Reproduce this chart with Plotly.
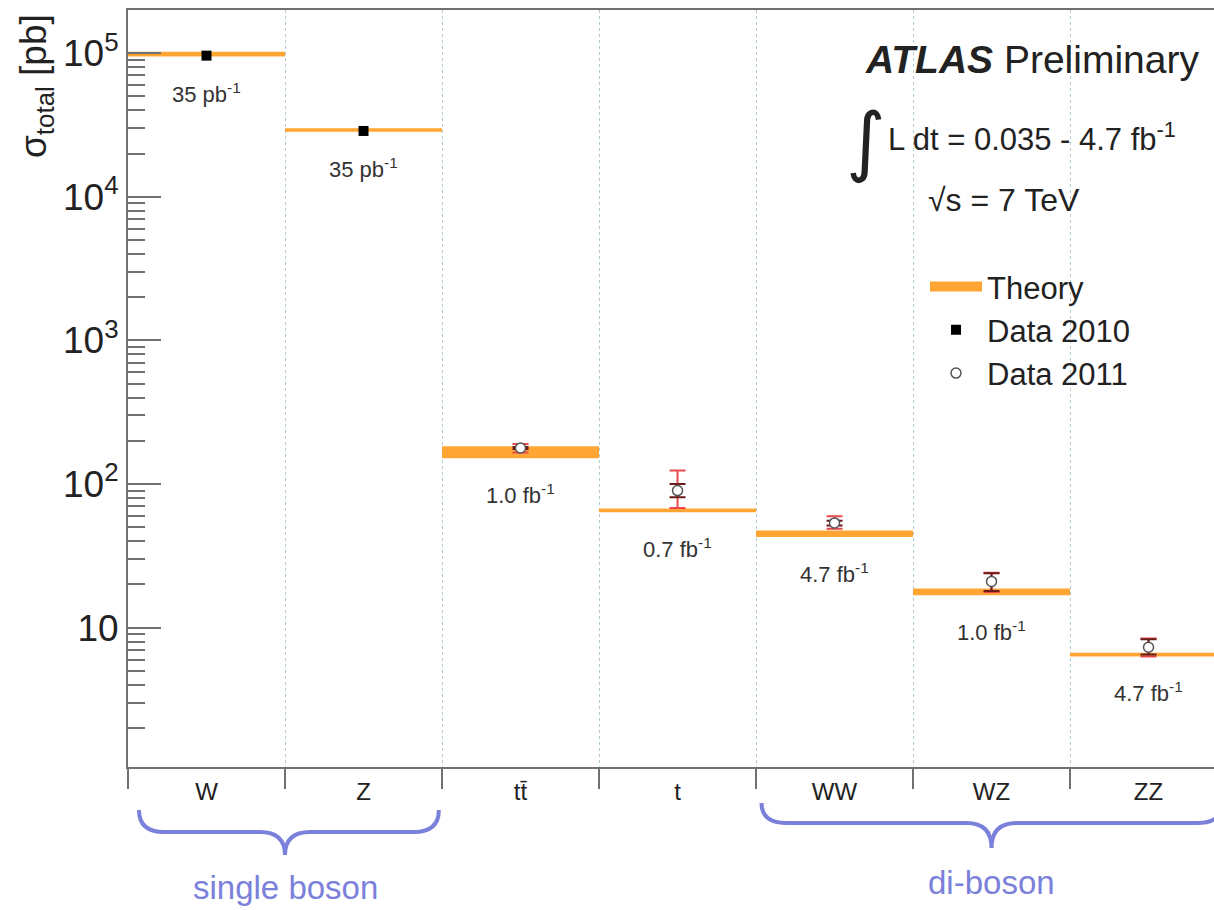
import numpy as np
import plotly.graph_objects as go

# ---------------- data ----------------
categories = ["W", "Z", "tt\u0304", "t", "WW", "WZ", "ZZ"]
theory_lo = [9.45e4, 2.83e4, 151, 63.5, 42.8, 16.8, 6.3]
theory_hi = [1.02e5, 3.00e4, 183, 67.5, 47.5, 18.7, 6.7]
lumi_labels = ["35 pb<sup>-1</sup>", "35 pb<sup>-1</sup>", "1.0 fb<sup>-1</sup>", "0.7 fb<sup>-1</sup>",
               "4.7 fb<sup>-1</sup>", "1.0 fb<sup>-1</sup>", "4.7 fb<sup>-1</sup>"]

data2010_cat = ["W", "Z"]
data2010_val = [9.6e4, 2.87e4]

data2011_cat = ["tt\u0304", "t", "WW", "WZ", "ZZ"]
data2011_val = [178, 90, 53.6, 21.0, 7.3]
stat_up = [3, 10, 2.0, 2.9, 1.0]
stat_dn = [3, 9, 2.2, 3.0, 0.8]
tot_up = [12, 34, 6.0, 3.1, 1.1]
tot_dn = [12, 22, 4.7, 3.3, 1.0]

ytick_vals = [10, 100, 1e3, 1e4, 1e5]
ytick_text = ["10", "10<sup>2</sup>", "10<sup>3</sup>", "10<sup>4</sup>", "10<sup>5</sup>"]

# ---------------- style ----------------
ORANGE = "#FFA533"
AXIS = "#707070"
TEXT = "#222222"
BRACE = "#7b80da"
FONT = "Liberation Sans, Arial, sans-serif"

xpos = {c: i for i, c in enumerate(categories)}

fig = go.Figure()

# theory bands
fig.add_trace(go.Bar(
    x=list(range(len(categories))),
    base=theory_lo,
    y=[h - l for h, l in zip(theory_hi, theory_lo)],
    width=1.0,
    marker=dict(color=ORANGE, line=dict(width=0)),
    showlegend=False, hoverinfo="skip",
))
# legend entry for theory
fig.add_trace(go.Scatter(x=[None], y=[None], mode="lines", name="Theory",
                         line=dict(color=ORANGE, width=10)))

# data 2010
fig.add_trace(go.Scatter(
    x=[xpos[c] for c in data2010_cat], y=data2010_val, mode="markers", name="Data 2010",
    marker=dict(symbol="square", size=10, color="black"),
))

x11 = [xpos[c] for c in data2011_cat]
# total uncertainty (red)
fig.add_trace(go.Scatter(
    x=x11, y=data2011_val, mode="markers", showlegend=False,
    marker=dict(size=1, color="rgba(0,0,0,0)"),
    error_y=dict(type="data", symmetric=False, array=tot_up, arrayminus=tot_dn,
                 color="#e8484a", thickness=2, width=8),
))
# statistical uncertainty (dark)
fig.add_trace(go.Scatter(
    x=x11, y=data2011_val, mode="markers", showlegend=False,
    marker=dict(size=1, color="rgba(0,0,0,0)"),
    error_y=dict(type="data", symmetric=False, array=stat_up, arrayminus=stat_dn,
                 color="#6a1c1c", thickness=2, width=8),
))
# data 2011 markers
fig.add_trace(go.Scatter(
    x=x11, y=data2011_val, mode="markers", name="Data 2011",
    marker=dict(symbol="circle", size=10, color="white", line=dict(color="#555555", width=1.5)),
))

# luminosity labels
for i, lab in enumerate(lumi_labels):
    fig.add_annotation(x=i, y=np.log10(theory_lo[i]), xref="x", yref="y", text=lab,
                       showarrow=False, yanchor="top", xanchor="center", yshift=-20,
                       font=dict(family=FONT, size=22, color="#333333"))

# minor ticks for log axis
minor_vals = [m * 10 ** d for d in range(0, 6) for m in range(2, 10) if m * 10 ** d < 2e5]

fig.update_layout(
    width=1214, height=910,
    margin=dict(l=128, r=0, t=10, b=143),
    paper_bgcolor="white", plot_bgcolor="white",
    font=dict(family=FONT, color=TEXT),
    barmode="overlay",
    legend=dict(x=0.7339, y=0.670, xanchor="left", yanchor="top",
                font=dict(family=FONT, size=31, color=TEXT),
                bgcolor="rgba(0,0,0,0)", tracegroupgap=0, itemwidth=52),
    xaxis=dict(
        range=[-0.5, 6.417], tickmode="array",
        tickvals=list(range(len(categories))), ticktext=categories,
        ticks="", ticklabelstandoff=2,
        tickfont=dict(family=FONT, size=24, color=TEXT),
        showline=True, linecolor=AXIS, linewidth=2, mirror=True,
        showgrid=False, zeroline=False,
        minor=dict(tickmode="array", tickvals=[i - 0.5 for i in range(len(categories) + 1)],
                   ticks="outside", ticklen=20, tickwidth=2, tickcolor=AXIS,
                   showgrid=True, gridcolor="#b3ccd2", griddash="dot", gridwidth=1),
    ),
    yaxis=dict(
        type="log", range=[0.03, 5.30],
        tickmode="array", tickvals=ytick_vals, ticktext=ytick_text,
        ticks="inside", ticklen=33, tickwidth=2, tickcolor=AXIS,
        tickfont=dict(family=FONT, size=37, color=TEXT),
        showline=True, linecolor=AXIS, linewidth=2,
        showgrid=False, zeroline=False,
        minor=dict(tickmode="array", tickvals=minor_vals, ticks="inside", ticklen=17,
                   tickwidth=2, tickcolor=AXIS, showgrid=False),
    ),
)


def px_x(p):
    return (p - 128) / 1086


def py(p):
    return (767 - p) / 757


# y axis title
fig.add_annotation(xref="paper", yref="paper", x=px_x(36), y=py(86), textangle=-90,
                   xanchor="center", yanchor="middle",
                   text="\u03c3<sub>total</sub> [pb]", showarrow=False,
                   font=dict(family=FONT, size=37, color=TEXT))

# ATLAS labels
fig.add_annotation(xref="paper", yref="paper", x=px_x(1201), y=py(60), xanchor="right", yanchor="middle",
                   text="<b><i>ATLAS</i></b> Preliminary", showarrow=False,
                   font=dict(family=FONT, size=39, color=TEXT))
fig.add_annotation(xref="paper", yref="paper", x=px_x(866), y=py(140), xanchor="center", yanchor="middle",
                   text="\u222b", showarrow=False,
                   font=dict(family="DejaVu Sans", size=76, color=TEXT))
fig.add_annotation(xref="paper", yref="paper", x=px_x(886), y=py(137), xanchor="left", yanchor="middle",
                   text="L dt = 0.035 - 4.7 fb<sup>-1</sup>", showarrow=False,
                   font=dict(family=FONT, size=31, color=TEXT))
fig.add_annotation(xref="paper", yref="paper", x=px_x(1004), y=py(200), xanchor="center", yanchor="middle",
                   text="\u221as = 7 TeV", showarrow=False,
                   font=dict(family=FONT, size=32, color=TEXT))


# braces
def brace(x0, x1, xc, ytop, ymid, ytip, r):
    return (f"M{x0},{ytop} Q{x0},{ymid} {x0 + r},{ymid} L{xc - r},{ymid} Q{xc},{ymid} {xc},{ytip} "
            f"M{xc},{ytip} Q{xc},{ymid} {xc + r},{ymid} L{x1 - r},{ymid} Q{x1},{ymid} {x1},{ytop}")


fig.add_shape(type="path", xref="x", yref="paper",
              path=brace(-0.43, 1.48, 0.5, py(810), py(832), py(855), 0.16),
              line=dict(color=BRACE, width=4))
fig.add_shape(type="path", xref="x", yref="paper",
              path=brace(3.535, 6.47, 5.0, py(803), py(823), py(848), 0.16),
              line=dict(color=BRACE, width=4))
fig.add_annotation(xref="x", yref="paper", x=0.5, y=py(887), xanchor="center", yanchor="middle",
                   text="single boson", showarrow=False, font=dict(family=FONT, size=33, color=BRACE))
fig.add_annotation(xref="x", yref="paper", x=5.0, y=py(882), xanchor="center", yanchor="middle",
                   text="di-boson", showarrow=False, font=dict(family=FONT, size=33, color=BRACE))

fig.write_html("out.html")
